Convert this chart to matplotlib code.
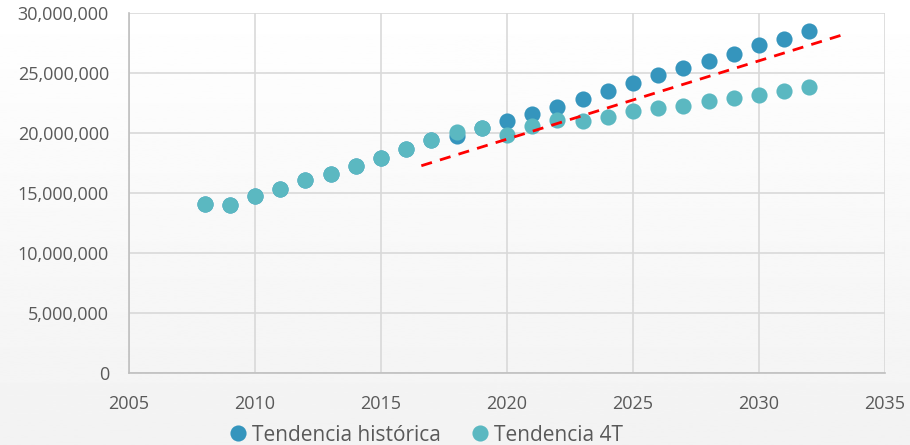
import numpy as np
import matplotlib.pyplot as plt
from matplotlib.ticker import FuncFormatter

# datos (millones)
years = list(range(2008, 2033))
hist = [14.1, 14.03, 14.75, 15.36, 16.08, 16.58, 17.28, 17.89, 18.64, 19.42,
        19.75, 20.44, 21.0, 21.6, 22.2, 22.86, 23.5, 24.17, 24.8, 25.4,
        26.0, 26.6, 27.3, 27.83, 28.5]
t4 = [14.1, 14.03, 14.75, 15.36, 16.08, 16.58, 17.28, 17.89, 18.64, 19.42,
      20.1, 20.44, 19.85, 20.6, 21.05, 21.0, 21.36, 21.86, 22.05, 22.25,
      22.67, 22.95, 23.2, 23.5, 23.8]
trend_x = [2016.6, 2033.3]
trend_y = [17.27, 28.17]

c_hist = "#3595BD"
c_4t = "#5BB8C1"
txt = "#595959"

plt.rcParams['font.family'] = ['Open Sans', 'DejaVu Sans']

fig = plt.figure(figsize=(9.1, 4.45), dpi=100)

# fondo con degradado gris claro
bg = fig.add_axes([0, 0, 1, 1], zorder=-10)
grad = np.linspace(1.0, 0.95, 256).reshape(-1, 1)
bg.imshow(grad, aspect='auto', cmap='gray', vmin=0, vmax=1, extent=[0, 1, 0, 1])
bg.axis('off')

ax = fig.add_axes([0.1418, 0.1618, 0.8307, 0.809])
ax.patch.set_alpha(0)

ax.scatter(years, [v * 1e6 for v in hist], s=135, color=c_hist, zorder=3,
           label="Tendencia histórica", linewidths=0)
ax.scatter(years, [v * 1e6 for v in t4], s=135, color=c_4t, zorder=4,
           label="Tendencia 4T", linewidths=0)
ax.plot(trend_x, [v * 1e6 for v in trend_y], color="#FF0000", linestyle=(0, (4, 3)),
        linewidth=2, zorder=5)

ax.set_xlim(2005, 2035)
ax.set_ylim(0, 30e6)
ax.set_xticks(range(2005, 2036, 5))
ax.set_yticks(np.arange(0, 30e6 + 1, 5e6))
ax.yaxis.set_major_formatter(FuncFormatter(lambda v, p: f"{int(v):,}"))
ax.grid(color="#D9D9D9", linewidth=1.2)
ax.set_axisbelow(True)
for s in ["top", "right"]:
    ax.spines[s].set_visible(False)
for s in ["left", "bottom"]:
    ax.spines[s].set_color("#BFBFBF")
    ax.spines[s].set_linewidth(1.2)
ax.tick_params(length=0, labelsize=13, colors=txt)
ax.tick_params(axis='y', pad=14.5)
ax.tick_params(axis='x', pad=15.5)

leg = fig.legend(loc="center left", bbox_to_anchor=(0.2538, 0.022), ncol=2, frameon=False,
                 fontsize=15, handletextpad=0.3, columnspacing=1.55, handlelength=0.7,
                 borderpad=0, borderaxespad=0, scatterpoints=1, scatteryoffsets=[0.5])
for t in leg.get_texts():
    t.set_color(txt)

fig.savefig("out.png", dpi=100)
